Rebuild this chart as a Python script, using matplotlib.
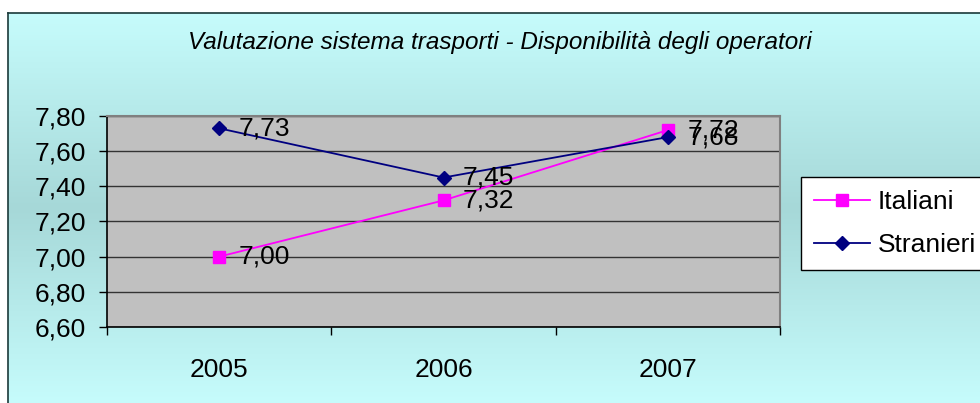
import numpy as np
import matplotlib
matplotlib.use("Agg")
import matplotlib.pyplot as plt
from matplotlib.lines import Line2D

plt.rcParams['font.family'] = ['Liberation Sans', 'DejaVu Sans']

years = ["2005", "2006", "2007"]
italiani = [7.00, 7.32, 7.72]
stranieri = [7.73, 7.45, 7.68]
yticks = [6.60, 6.80, 7.00, 7.20, 7.40, 7.60, 7.80]
title = "Valutazione sistema trasporti - Disponibilità degli operatori"

W, H = 980, 403
FS = 19
fig = plt.figure(figsize=(W/100, H/100), dpi=100)
fig.patch.set_facecolor("white")

# gradient background frame
bg = fig.add_axes([8/W, 0, 1 - 8/W, (H-13)/H], zorder=0)
n = 400
t = np.linspace(0, 1, n)
center = 0.50
d = np.abs(t - center) / max(center, 1 - center)
light = np.array([198, 252, 252]) / 255
dark = np.array([166, 216, 216]) / 255
cols = (light[None, :] * d[:, None] + dark[None, :] * (1 - d[:, None]))
img = np.repeat(cols[:, None, :], 2, axis=1)
bg.imshow(img, aspect='auto', extent=[0, 1, 0, 1], origin='upper')
bg.set_xlim(0, 1); bg.set_ylim(0, 1)
bg.set_xticks([]); bg.set_yticks([])
for s in ['right', 'bottom']:
    bg.spines[s].set_visible(False)
for s in ['left', 'top']:
    bg.spines[s].set_color('#1a3a3a')
    bg.spines[s].set_linewidth(1.2)

ax = fig.add_axes([107/W, (H-327)/H, (780-107)/W, (327-116)/H], zorder=2)
ax.set_facecolor("#C0C0C0")
x = np.arange(len(years))
ax.plot(x, italiani, color="#FF00FF", lw=1.3, marker='s', ms=8,
        mfc="#FF00FF", mec="#FF00FF", zorder=4)
ax.plot(x, stranieri, color="#000080", lw=1.3, marker='D', ms=7,
        mfc="#000080", mec="#000080", zorder=4)
for series in (italiani, stranieri):
    for xi, v in zip(x, series):
        ax.annotate(f"{v:.2f}".replace('.', ','), (xi, v), xytext=(14, 0),
                    textcoords='offset points', va='center', ha='left',
                    fontsize=FS, color='black', zorder=5)

ax.set_ylim(6.60, 7.80)
ax.set_yticks(yticks)
ax.set_yticklabels([f"{v:.2f}".replace('.', ',') for v in yticks], fontsize=FS)
ax.yaxis.grid(True, color='#333333', lw=1.0)
ax.set_axisbelow(True)
ax.set_xlim(-0.5, 2.5)
ax.set_xticks([-0.5, 0.5, 1.5, 2.5])
ax.set_xticklabels([])
ax.set_xticks(x, minor=True)
ax.set_xticklabels(years, minor=True, fontsize=FS)
ax.tick_params(axis='x', which='minor', length=0, pad=22)
ax.tick_params(axis='x', which='major', length=6, width=1, color='black', direction='out')
ax.tick_params(axis='y', length=6, width=1, color='black', direction='out', pad=9)
for s in ['top', 'right']:
    ax.spines[s].set_color('#808080')
    ax.spines[s].set_linewidth(1.5)
for s in ['left', 'bottom']:
    ax.spines[s].set_color('black')
    ax.spines[s].set_linewidth(1.2)

fig.text(500/W, 1 - 42/H, title, ha='center', va='center', fontsize=17.5,
         style='italic', color='black')

handles = [Line2D([], [], color="#FF00FF", lw=1.3, marker='s', ms=8),
           Line2D([], [], color="#000080", lw=1.3, marker='D', ms=7)]
leg = fig.legend(handles, ["Italiani", "Stranieri"], loc='upper left',
                 bbox_to_anchor=(801/W, 1 - 177/H), fontsize=FS, frameon=True,
                 fancybox=False, edgecolor='black', framealpha=1,
                 handlelength=2.1, handletextpad=0.3, borderpad=0.5,
                 labelspacing=0.72, borderaxespad=0)
leg.get_frame().set_linewidth(1.0)
leg.set_zorder(3)

fig.savefig("out.png", dpi=100)
